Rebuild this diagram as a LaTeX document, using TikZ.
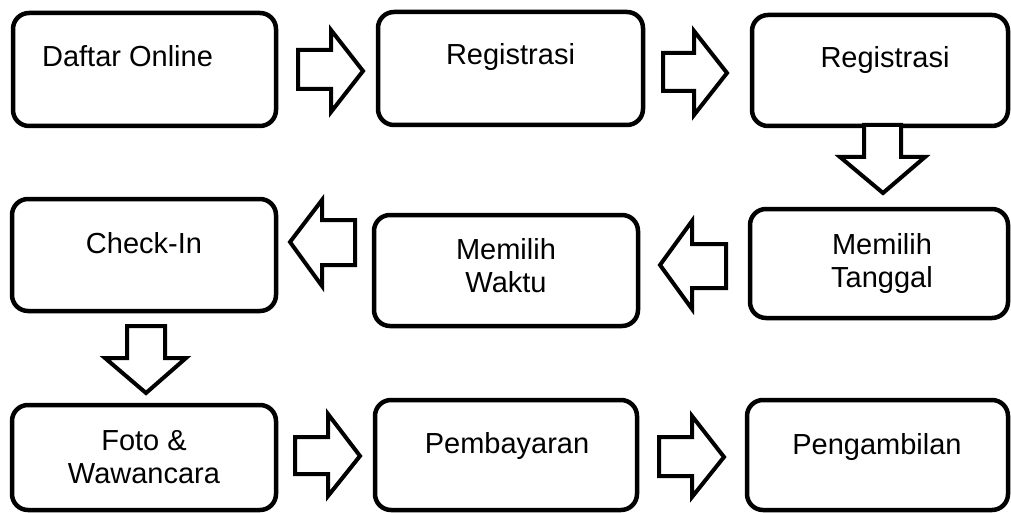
\documentclass[tikz,border=0pt]{standalone}
\usepackage{fontspec}
\setmainfont{Liberation Sans}
\usetikzlibrary{calc}
\begin{document}
\begin{tikzpicture}[x=1pt,y=-1pt,
  box/.style={draw, line width=4.5pt, rounded corners=16pt, inner sep=0pt},
  lbl/.style={font=\fontsize{29}{33}\selectfont, align=center, inner sep=0pt, anchor=base},
  blockarrow/.style={draw, line width=4pt, miter limit=10, line join=miter, fill=white}]
\useasboundingbox (0,0) rectangle (1011,513);
% boxes
\draw[box] (13,13) rectangle (276,126);
\coordinate (b1) at (144.5,13);
\draw[box] (378,12) rectangle (643,125);
\coordinate (b2) at (510.5,12);
\draw[box] (752,15) rectangle (1008,126);
\coordinate (b3) at (880,15);
\draw[box] (12,199) rectangle (276,311);
\coordinate (b4) at (144,199);
\draw[box] (374,215) rectangle (638,326);
\coordinate (b5) at (506,215);
\draw[box] (750,209) rectangle (1008,318);
\coordinate (b6) at (880,209);
\draw[box] (12,405) rectangle (276,510);
\coordinate (b7) at (144,405);
\draw[box] (375,400) rectangle (637,510);
\coordinate (b8) at (506,400);
\draw[box] (747,400) rectangle (1008,510);
\coordinate (b9) at (877,400);
% labels
\node[lbl] (t1) at ($(b1)+(-17,54)$) {Daftar Online};
\node[lbl] (t2) at ($(b2)+(0,53)$) {Registrasi};
\node[lbl] (t3) at ($(b3)+(5,53)$) {Registrasi};
\node[lbl] (t4) at ($(b4)+(0,54)$) {Check-In};
\node[lbl] (t5) at ($(b5)+(0,77)$) {Memilih\\Waktu};
\node[lbl] (t6) at ($(b6)+(2,78)$) {Memilih\\Tanggal};
\node[lbl] (t7) at ($(b7)+(0,78)$) {Foto \&\\Wawancara};
\node[lbl] (t8) at ($(b8)+(1,53)$) {Pembayaran};
\node[lbl] (t9) at ($(b9)+(0,54)$) {Pengambilan};
% block arrows
\draw[blockarrow] (298,50) -- (331,50) -- (331,30) -- (363,71) -- (331,112) -- (331,89) -- (298,89) -- cycle;
\draw[blockarrow] (663,53) -- (694,53) -- (694,31) -- (727,73) -- (694,115) -- (694,91) -- (663,91) -- cycle;
\draw[blockarrow] (864,125) -- (864,157) -- (840,157) -- (883,193) -- (925,157) -- (901,157) -- (901,125) -- cycle;
\draw[blockarrow] (355,220) -- (322,220) -- (322,200) -- (290,242) -- (322,286) -- (322,265) -- (355,265) -- cycle;
\draw[blockarrow] (726,244) -- (692,244) -- (692,221) -- (660,265) -- (692,309) -- (692,288) -- (726,288) -- cycle;
\draw[blockarrow] (127,326) -- (127,358) -- (105,358) -- (146,393) -- (186,358) -- (165,358) -- (165,326) -- cycle;
\draw[blockarrow] (295,437) -- (328,437) -- (328,414) -- (360,456) -- (328,496) -- (328,474) -- (295,474) -- cycle;
\draw[blockarrow] (659,437) -- (692,437) -- (692,416) -- (724,457) -- (692,497) -- (692,476) -- (659,476) -- cycle;
\end{tikzpicture}
\end{document}
